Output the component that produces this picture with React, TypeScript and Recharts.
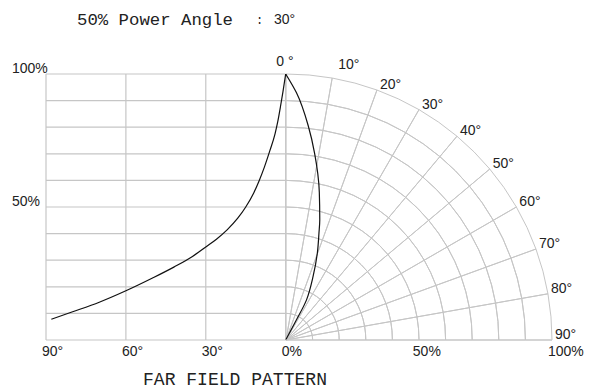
import React from 'react';
import { ComposedChart, Line, XAxis, YAxis, ReferenceLine, PieChart, Pie } from 'recharts';

const W = 591;
const H = 389;
const R = 266; // outer polar radius in px (same scale as the cartesian axes)
const CX = 286;
const CY = 340;

// Left (rectangular) pattern: angle (deg) vs relative intensity (%)
const leftAngles = [0, 1, 2, 3, 4, 6, 8, 10, 12, 15, 18, 22, 26, 30, 35, 42, 50, 60, 70, 80, 88];
const leftIntensity = [100, 93.5, 87.5, 82, 77.5, 71, 65, 59.8, 55.3, 50, 45.8, 41.4, 37.9, 35, 31.4, 27.4, 23.3, 18.5, 14.2, 10.6, 7.8];

// Right (polar) pattern: angle (deg) vs relative intensity (%)
const polarAngles = [0, 2.5, 6, 8.8, 12.8, 15.8, 17.3, 19.9, 23.3, 27.4, 28.1, 30];
const polarIntensity = [100, 93, 81, 71, 57, 47, 42, 35, 26, 17, 8.5, 0];

// Grid / tick definitions
const leftGridAngles = [90, 60, 30, 0];
const gridLevels = [10, 20, 30, 40, 50, 60, 70, 80, 90, 100];
const spokeAngles = [0, 10, 20, 30, 40, 50, 60, 70, 80, 90];
const angleLabels = ['0 °', '10°', '20°', '30°', '40°', '50°', '60°', '70°', '80°', '90°'];
const xTicks = [-90, -60, -30, 0, 50, 100];
const xTickLabels = ['90°', '60°', '30°', '0%', '50%', '100%'];
const yTicks = [50, 100];
const yTickLabels = ['50%', '100%'];

const titleText = '50% Power Angle';
const titleValue = '30°';
const footerText = 'FAR FIELD PATTERN';

const GRID = '#c6c6c6';
const SANS = '"Liberation Sans", Arial, sans-serif';
const MONO = '"Liberation Mono", "DejaVu Sans Mono", monospace';

const leftData = leftAngles
  .map((a, i) => ({ x: -a, y: leftIntensity[i] }))
  .reverse();

const RAD = Math.PI / 180;
const polarData = polarAngles
  .map((a, i) => ({ x: polarIntensity[i] * Math.sin(a * RAD), y: polarIntensity[i] * Math.cos(a * RAD) }))
  .reverse();

const spokeData = spokeAngles.slice(1).map((a, i) => ({ v: a - spokeAngles[i] }));
const labelData = angleLabels.map((name) => ({ name, v: 10 }));

const XTick = (props: any) => {
  const { x, y, payload } = props;
  const idx = xTicks.indexOf(payload.value);
  const label = idx >= 0 ? xTickLabels[idx] : '';
  const dx = payload.value === 50 ? -6 : -4;
  return (
    <text x={x + dx} y={y + 16} textAnchor="start" fontFamily={SANS} fontSize={14} fill="#222">
      {label}
    </text>
  );
};

const YTick = (props: any) => {
  const { x, y, payload } = props;
  const idx = yTicks.indexOf(payload.value);
  const label = idx >= 0 ? yTickLabels[idx] : '';
  return (
    <text x={x - 34} y={y - 1} textAnchor="start" fontFamily={SANS} fontSize={14} fill="#222">
      {label}
    </text>
  );
};

const angleLabel = (props: any) => {
  const { cx, cy, midAngle, outerRadius, index } = props;
  const px = cx + outerRadius * Math.cos(midAngle * RAD);
  const py = cy - outerRadius * Math.sin(midAngle * RAD);
  let dx = 3;
  let dy = -1;
  let anchor: 'start' | 'middle' = 'start';
  if (index === 0) {
    dx = -1;
    dy = -8;
    anchor = 'middle';
  } else if (index === 1) {
    dx = 6;
    dy = -9;
  }
  return (
    <text
      key={`al-${index}`}
      x={px + dx}
      y={py + dy}
      textAnchor={anchor}
      fontFamily={SANS}
      fontSize={14}
      fill="#222"
    >
      {angleLabels[index]}
    </text>
  );
};

export default function App() {
  return (
    <div style={{ position: 'absolute', left: 0, top: 0, width: W, height: H, background: '#fff' }}>
      <div style={{ position: 'absolute', left: 0, top: 0 }}>
        <PieChart width={W} height={H} margin={{ top: 0, right: 0, bottom: 0, left: 0 }}>
          {gridLevels.map((lv, i) => (
            <Pie
              key={`ring-${lv}`}
              data={spokeData}
              dataKey="v"
              cx={CX}
              cy={CY}
              startAngle={90}
              endAngle={0}
              innerRadius={i === 0 ? 0 : (R * gridLevels[i - 1]) / 100}
              outerRadius={(R * lv) / 100}
              fill="none"
              stroke={GRID}
              strokeWidth={1}
              isAnimationActive={false}
            />
          ))}
          <Pie
            data={labelData}
            dataKey="v"
            cx={CX}
            cy={CY}
            startAngle={95}
            endAngle={-5}
            innerRadius={R}
            outerRadius={R}
            fill="none"
            stroke="none"
            label={angleLabel}
            labelLine={false}
            isAnimationActive={false}
          />
        </PieChart>
      </div>
      <div style={{ position: 'absolute', left: 0, top: 0 }}>
        <ComposedChart width={W} height={H} margin={{ top: 74, right: 39, bottom: 19, left: 12 }}>
          <XAxis
            type="number"
            dataKey="x"
            domain={[-90, 100]}
            ticks={xTicks}
            height={30}
            tickSize={0}
            tickMargin={0}
            tickLine={false}
            axisLine={{ stroke: GRID, strokeWidth: 1.2 }}
            tick={<XTick />}
            interval={0}
            allowDataOverflow
          />
          <YAxis
            type="number"
            dataKey="y"
            domain={[0, 100]}
            ticks={yTicks}
            width={34}
            tickSize={0}
            tickMargin={0}
            tickLine={false}
            axisLine={false}
            tick={<YTick />}
            interval={0}
            allowDataOverflow
          />
          {gridLevels.map((lv) => (
            <ReferenceLine
              key={`h-${lv}`}
              segment={[{ x: -90, y: lv }, { x: 0, y: lv }]}
              stroke={GRID}
              strokeWidth={1.2}
              ifOverflow="visible"
            />
          ))}
          {leftGridAngles.map((a) => (
            <ReferenceLine
              key={`v-${a}`}
              segment={[{ x: -a, y: 0 }, { x: -a, y: 100 }]}
              stroke={GRID}
              strokeWidth={1.2}
              ifOverflow="visible"
            />
          ))}
          <Line
            data={leftData}
            dataKey="y"
            type="monotone"
            stroke="#111"
            strokeWidth={1.2}
            dot={false}
            activeDot={false}
            isAnimationActive={false}
          />
          <Line
            data={polarData}
            dataKey="y"
            type="monotoneY"
            stroke="#111"
            strokeWidth={1.2}
            dot={false}
            activeDot={false}
            isAnimationActive={false}
          />
        </ComposedChart>
      </div>
      <svg width={W} height={H} style={{ position: 'absolute', left: 0, top: 0, pointerEvents: 'none' }}>
        <text x={77} y={25} fontFamily={MONO} fontSize={17} textLength={156} lengthAdjust="spacingAndGlyphs" fill="#222">
          {titleText}
        </text>
        <text x={256} y={24} fontFamily={MONO} fontSize={12} fill="#222">
          :
        </text>
        <text x={274} y={24} fontFamily={SANS} fontSize={14} fill="#222">
          {titleValue}
        </text>
        <text x={143} y={385} fontFamily={MONO} fontSize={18} textLength={184} lengthAdjust="spacingAndGlyphs" fill="#222">
          {footerText}
        </text>
      </svg>
    </div>
  );
}
